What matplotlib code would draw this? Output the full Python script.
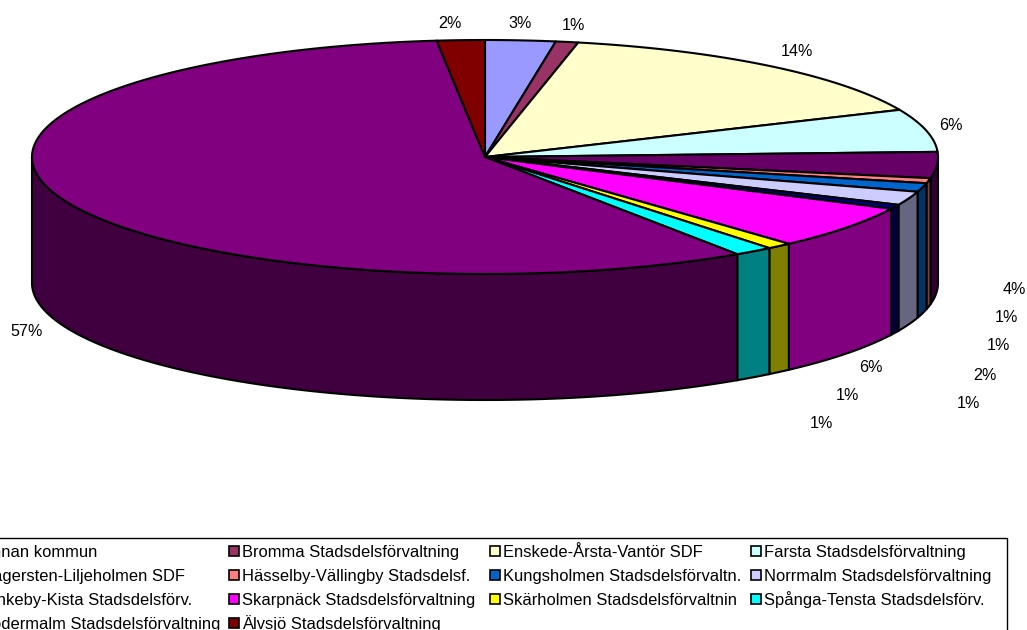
import numpy as np
import matplotlib
matplotlib.use("Agg")
import matplotlib.pyplot as plt
from matplotlib.colors import to_rgb
from matplotlib.patches import Polygon, Rectangle

plt.rcParams["font.family"] = ["Liberation Sans", "DejaVu Sans"]

# Andelar avlasta ur bilden, medursvis fran klockan 12
names = [
    "Annan kommun", "Bromma Stadsdelsförvaltning", "Enskede-Årsta-Vantör SDF", "Farsta Stadsdelsförvaltning",
    "Hägersten-Liljeholmen SDF", "Hässelby-Vällingby Stadsdelsf.", "Kungsholmen Stadsdelsförvaltn.", "Norrmalm Stadsdelsförvaltning",
    "Rinkeby-Kista Stadsdelsförv.", "Skarpnäck Stadsdelsförvaltning", "Skärholmen Stadsdelsförvaltnin", "Spånga-Tensta Stadsdelsförv.",
    "Södermalm Stadsdelsförvaltning", "Älvsjö Stadsdelsförvaltning",
]
shares = [2.5, 0.8, 15.1, 5.9, 3.6, 0.7, 1.2, 1.9, 0.6, 6.0, 0.9, 1.4, 57.7, 1.7]
pct_labels = ["3%", "1%", "14%", "6%", "4%", "1%", "1%", "2%", "1%", "6%", "1%", "1%", "57%", "2%"]
colors = [
    "#9999FF", "#993366", "#FFFFCC", "#CCFFFF", "#660066", "#FF8080", "#0066CC",
    "#CCCCFF", "#000080", "#FF00FF", "#FFFF00", "#00FFFF", "#800080", "#800000",
]
label_pos = [
    (520, 24), (573, 26), (797, 51), (951, 125), (1014, 289), (1006, 318), (998, 346),
    (985, 375), (968, 403), (871, 367), (847, 395), (821, 423), (27, 331), (450, 24),
]

# Geometri for kakan i pixlar
CX, CY = 485, 157
RX, RY = 453, 117
DEPTH = 126
LW = 1.5


def arc(t0, t1):
    # Punkter langs ellipsen, t i grader medurs fran toppen
    t = np.radians(np.linspace(t0, t1, max(2, int(abs(t1 - t0) * 3) + 2)))
    return np.column_stack([CX + RX * np.sin(t), CY - RY * np.cos(t)])


fig = plt.figure(figsize=(10.27, 6.30), dpi=100)
ax = fig.add_axes([0, 0, 1, 1])
ax.set_xlim(0, 1027)
ax.set_ylim(630, 0)
ax.axis("off")

edges = np.cumsum([0] + shares) / sum(shares) * 360

# Sidovaggar forst, bara framsidan syns (90-270 grader)
for i in range(len(shares)):
    t0 = max(edges[i], 90)
    t1 = min(edges[i + 1], 270)
    if t1 <= t0:
        continue
    top = arc(t0, t1)
    bottom = (top + [0, DEPTH])[::-1]
    dark = tuple(c * 0.5 for c in to_rgb(colors[i]))
    ax.add_patch(Polygon(np.vstack([top, bottom]), closed=True, facecolor=dark, edgecolor="black", linewidth=LW))

# Ovansidan
for i in range(len(shares)):
    pts = np.vstack([[CX, CY], arc(edges[i], edges[i + 1])])
    ax.add_patch(Polygon(pts, closed=True, facecolor=colors[i], edgecolor="black", linewidth=LW, joinstyle="round"))

for txt, (x, y) in zip(pct_labels, label_pos):
    ax.text(x, y, txt, ha="center", va="center", fontsize=11.6, color="black")

# Legenden gar utanfor bilden till vanster och nedtill
ax.add_patch(Rectangle((-40, 537.5), 1046.5, 120, facecolor="white", edgecolor="black", linewidth=1.0))
for i, name in enumerate(names):
    row, col = divmod(i, 4)
    x = -32 + col * 261
    y = 551 + row * 24
    ax.add_patch(Rectangle((x, y - 5), 10, 10, facecolor=colors[i], edgecolor="black", linewidth=1.2))
    ax.text(x + 13, y + 6, name, ha="left", va="baseline", fontsize=11.9, color="black", clip_on=True)

fig.savefig("out.png", dpi=100)
